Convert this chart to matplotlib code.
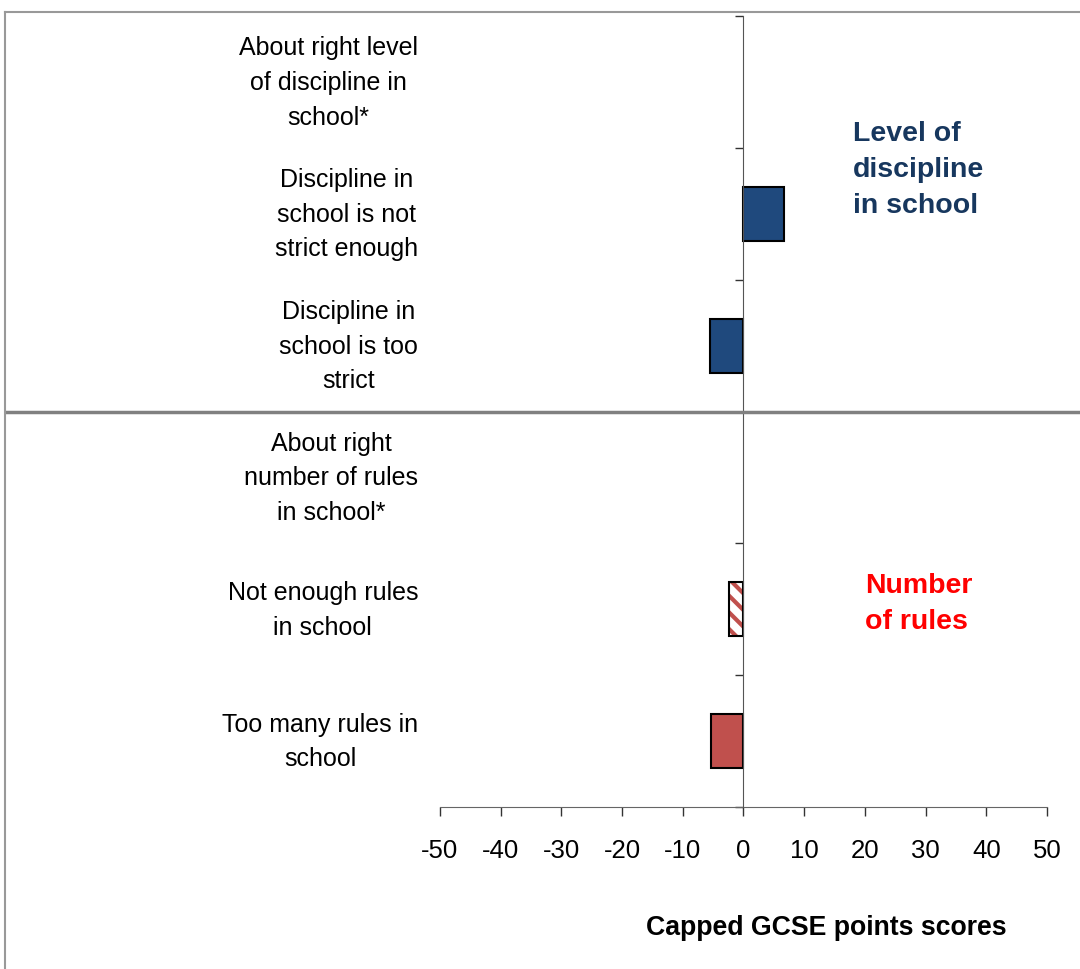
import numpy as np
import matplotlib as mpl
mpl.use('Agg')
from matplotlib import pyplot as plt
from matplotlib import transforms

plt.rcParams['font.family'] = ['Liberation Sans', 'DejaVu Sans']
plt.rcParams['hatch.linewidth'] = 3.0

# categories top to bottom, reference groups (marked *) have no bar
categories = ["About right level\nof discipline in\nschool*",
              "Discipline in\nschool is not\nstrict enough",
              "Discipline in\nschool is too\nstrict",
              "About right\nnumber of rules\nin school*",
              "Not enough rules\nin school",
              "Too many rules in\nschool"]
scores = [np.nan, 6.6, -5.6, np.nan, -2.4, -5.3]
bar_style = ['none', 'blue', 'blue', 'none', 'hatch', 'red']
x_ticks = [-50, -40, -30, -20, -10, 0, 10, 20, 30, 40, 50]
group_labels = ["Level of\ndiscipline\nin school", "Number\nof rules"]
x_title = "Capped GCSE points scores"

blue = '#1F497D'
red = '#C0504D'

fig = plt.figure(figsize=(10.8, 9.7), dpi=100)
ax = fig.add_axes([440/1080, 1-808/970, 607/1080, 791/970])

ypos = np.arange(len(categories))
for y, v, s in zip(ypos, scores, bar_style):
    if np.isnan(v):
        continue
    if s == 'hatch':
        # white bar with red diagonal stripes, black outline on top
        ax.barh(y, v, height=0.41, color='white', edgecolor=red, hatch='\\\\', linewidth=0, zorder=2)
        ax.barh(y, v, height=0.41, facecolor='none', edgecolor='black', linewidth=1.5, zorder=3)
    else:
        ax.barh(y, v, height=0.41, color=blue if s == 'blue' else red,
                edgecolor='black', linewidth=1.5, zorder=3)

ax.set_xlim(-50, 50)
ax.set_ylim(len(categories)-0.5, -0.5)
ax.set_xticks(x_ticks)
ax.set_xticklabels([str(t) for t in x_ticks], fontsize=18.5)
ax.set_yticks(np.arange(len(categories)+1) - 0.5)
ax.set_yticklabels([])
ax.tick_params(axis='x', direction='out', length=6.5, width=1, color='#333333', pad=16)
ax.tick_params(axis='y', direction='out', length=6, width=1, color='#333333')
for side in ['top', 'right']:
    ax.spines[side].set_visible(False)
ax.spines['left'].set_position(('data', 0))
ax.spines['left'].set_color('#555555')
ax.spines['bottom'].set_color('#666666')
ax.spines['left'].set_zorder(4)

# category labels, centred blocks ending at the same right edge
tr = transforms.blended_transform_factory(fig.transFigure, ax.transData)
for y, lab in zip(ypos, categories):
    ax.text(418/1080, y, lab, transform=tr, ha='right', va='center',
            multialignment='center', fontsize=18, linespacing=1.56)

# separator between the two groups and outer frame
ax.plot([6/1080, 1.0], [2.5, 2.5], transform=tr, color='#808080', lw=2.5, clip_on=False, zorder=5)
fig.add_artist(plt.Line2D([5/1080, 1.0], [1-13/970, 1-13/970], color='#999999', lw=1.5))
fig.add_artist(plt.Line2D([5/1080, 5/1080], [0, 1-13/970], color='#999999', lw=1.5))

fig.text(853/1080, 1-170/970, group_labels[0], color='#17375E', fontsize=20.5,
         fontweight='bold', ha='left', va='center', linespacing=1.52)
fig.text(865/1080, 1-604/970, group_labels[1], color='#FF0000', fontsize=20.5,
         fontweight='bold', ha='left', va='center', linespacing=1.52)

fig.text(826/1080, 1-928/970, x_title, fontsize=19.2, fontweight='bold', ha='center', va='center')

fig.savefig('out.png', dpi=100)
